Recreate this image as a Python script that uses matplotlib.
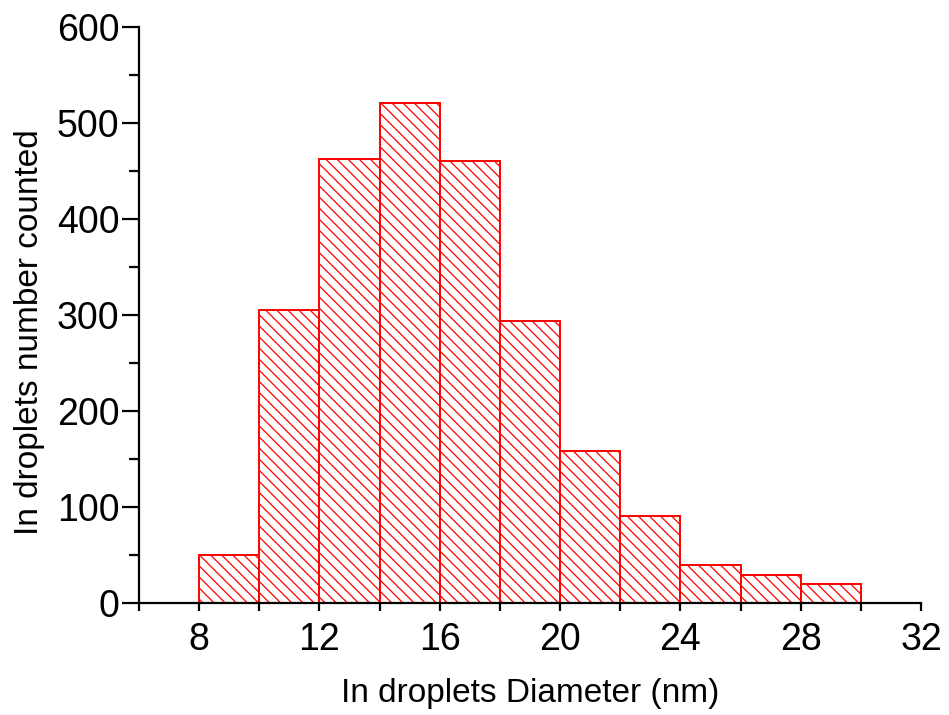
import matplotlib
matplotlib.use("Agg")
import matplotlib.pyplot as plt
from matplotlib.ticker import MultipleLocator

plt.rcParams['font.family'] = ['Liberation Sans', 'DejaVu Sans']
plt.rcParams['hatch.linewidth'] = 0.9
plt.rcParams['hatch.color'] = 'red'

bin_left = [8, 10, 12, 14, 16, 18, 20, 22, 24, 26, 28]
counts = [50, 305, 463, 521, 461, 294, 158, 91, 40, 29, 20]
bin_width = 2
xticks = [8, 12, 16, 20, 24, 28, 32]
yticks = [0, 100, 200, 300, 400, 500, 600]

fig = plt.figure(figsize=(9.49, 7.15), dpi=100)
ax = fig.add_axes([0.1465, 0.1566, 0.824, 0.8054])
ax.bar(bin_left, counts, width=bin_width, align='edge', facecolor='white',
       edgecolor='red', linewidth=1.4, hatch='\\\\\\')

ax.set_xlim(6, 32)
ax.set_ylim(0, 600)
ax.set_xticks(xticks)
ax.set_yticks(yticks)
ax.xaxis.set_minor_locator(MultipleLocator(2))
ax.yaxis.set_minor_locator(MultipleLocator(50))
for s in ['top', 'right']:
    ax.spines[s].set_visible(False)
for s in ['left', 'bottom']:
    ax.spines[s].set_linewidth(1.6)
ax.tick_params(axis='both', which='both', direction='out', width=1.6, labelsize=27)
ax.tick_params(axis='x', which='both', length=6, pad=8)
ax.tick_params(axis='y', which='major', length=12, pad=2)
ax.tick_params(axis='y', which='minor', length=7)
ax.set_xlabel('In droplets Diameter (nm)', fontsize=24, labelpad=14)
ax.set_ylabel('In droplets number counted', fontsize=24)
ax.yaxis.set_label_coords(-0.12, 0.47)
fig.savefig('out.png', dpi=100)
